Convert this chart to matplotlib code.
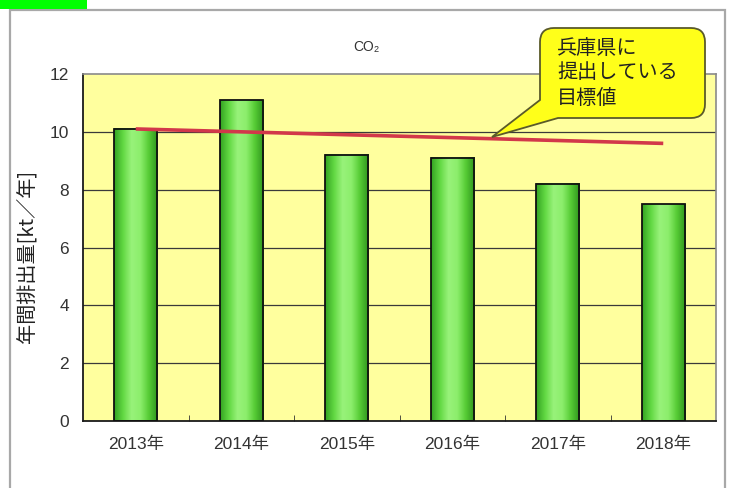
import matplotlib
matplotlib.use("Agg")
import matplotlib.pyplot as plt
import numpy as np
from matplotlib.path import Path
from matplotlib.patches import PathPatch, Rectangle
from matplotlib.colors import LinearSegmentedColormap

plt.rcParams['font.family'] = ['Liberation Sans', 'Noto Sans CJK JP', 'DejaVu Sans']

# --- data ---
years = ["2013年", "2014年", "2015年", "2016年", "2017年", "2018年"]
emissions = [10.1, 11.1, 9.2, 9.1, 8.2, 7.5]          # kt / year
target = [10.1, 10.0, 9.9, 9.8, 9.7, 9.6]            # target submitted to the prefecture
y_ticks = [0, 2, 4, 6, 8, 10, 12]
title = "CO₂"
y_label = "年間排出量[kt／年]"
callout_lines = ["兵庫県に", "提出している", "目標値"]

W, H = 733, 488
fig = plt.figure(figsize=(W / 100, H / 100), dpi=100)
fig.patch.set_facecolor("white")


def px(x, y):
    """pixel position (origin top-left) -> figure fraction"""
    return (x / W, 1 - y / H)


# outer frame and corner tab
fig.patches.append(Rectangle(px(10, 520), 715 / W, 510 / H, transform=fig.transFigure,
                             facecolor="white", edgecolor="#a8a8a8", lw=1.6, zorder=-5))
fig.patches.append(Rectangle(px(0, 9), 87 / W, 9 / H, transform=fig.transFigure,
                             facecolor="#00ff00", edgecolor="none", zorder=-4))

l, b = px(83, 421)
r, t = px(716, 74)
ax = fig.add_axes([l, b, r - l, t - b])
ax.set_facecolor("#ffff9e")

x = np.arange(len(years))
bar_w = 0.41

# horizontal grid
for v in y_ticks[1:-1]:
    ax.axhline(v, color="#3a3a3a", lw=0.9, zorder=1)

# gradient bars
grad = LinearSegmentedColormap.from_list(
    "bar", ["#34a322", "#62d843", "#98f27a", "#8cee6c", "#56cb35", "#2f951d"])
gimg = np.linspace(0, 1, 64).reshape(1, -1)
bars = ax.bar(x, emissions, width=bar_w, facecolor="none", edgecolor="#101010",
              lw=1.3, zorder=3)
for xi, v in zip(x, emissions):
    ax.imshow(gimg, cmap=grad, aspect="auto", zorder=2, interpolation="bilinear",
              extent=(xi - bar_w / 2, xi + bar_w / 2, 0, v))
ax.set_xlim(-0.5, len(years) - 0.5)
ax.set_ylim(0, 12)

# target line
ax.plot(x, target, color="#d2384a", lw=2.6, solid_capstyle="butt", zorder=4)

# axes styling
tick_color = "#333333"
ax.set_xticks(x)
ax.set_xticklabels(years, fontsize=12.5, color=tick_color)
ax.set_xticks(np.arange(0.5, len(years) - 1, 1), minor=True)
ax.tick_params(axis="x", which="major", length=0, pad=11)
ax.tick_params(axis="x", which="minor", direction="in", length=4, color="#333333")
ax.set_yticks(y_ticks)
ax.set_yticklabels([str(v) for v in y_ticks], fontsize=12.5, color=tick_color)
ax.tick_params(axis="y", length=0, pad=10)
for s in ("left", "bottom"):
    ax.spines[s].set_color("#1a1a1a")
    ax.spines[s].set_linewidth(1.3)
for s in ("top", "right"):
    ax.spines[s].set_color("#8a8a8a")
    ax.spines[s].set_linewidth(1.2)

fig.text(*px(27, 256), y_label, rotation=90, ha="center", va="center",
         fontsize=14.5, color="#222222", family=["Noto Sans CJK JP", "DejaVu Sans"])

fig.text(*px(366, 47), title, ha="center", va="center", fontsize=10,
         color="#333333", family=["Liberation Sans", "DejaVu Sans"])

# speech-bubble callout
L, R, T, B, rad = 540, 705, 28, 118, 14
tip = (492, 137)
verts = [
    (L + rad, T), (R - rad, T), (R, T), (R, T + rad),
    (R, B - rad), (R, B), (R - rad, B),
    (558, B), tip, (L, 100),
    (L, T + rad), (L, T), (L + rad, T), (L + rad, T),
]
codes = [Path.MOVETO, Path.LINETO, Path.CURVE3, Path.CURVE3,
         Path.LINETO, Path.CURVE3, Path.CURVE3,
         Path.LINETO, Path.LINETO, Path.LINETO,
         Path.LINETO, Path.CURVE3, Path.CURVE3, Path.CLOSEPOLY]
bubble = Path([px(*p) for p in verts], codes)
fig.patches.append(PathPatch(bubble, transform=fig.transFigure, facecolor="#ffff1a",
                             edgecolor="#5a5a2a", lw=1.3, zorder=5))
for i, line in enumerate(callout_lines):
    fig.text(*px(557, 48 + i * 25), line, ha="left", va="center", fontsize=14.5,
             color="#222222", zorder=6, family=["Noto Sans CJK JP", "DejaVu Sans"])

fig.savefig("out.png", dpi=100)
